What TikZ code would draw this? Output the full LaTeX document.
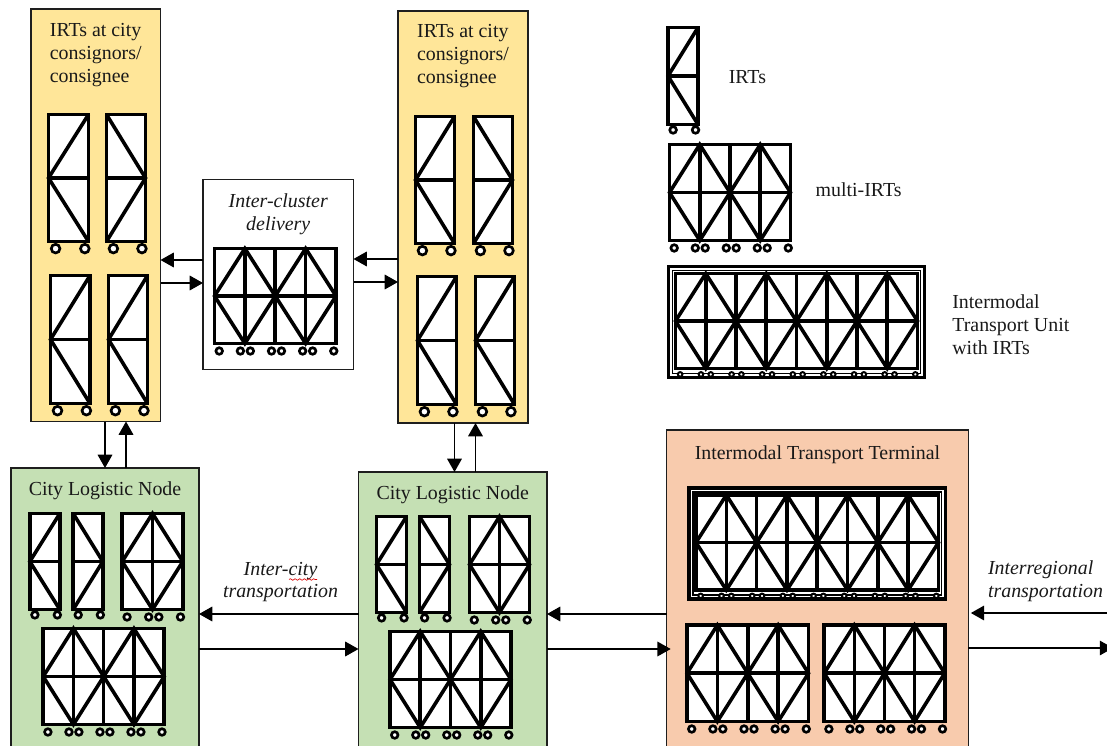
\documentclass[tikz,border=0pt]{standalone}
\usepackage{fontspec}
\setmainfont{Liberation Serif}
\usepackage{xcolor}
\usetikzlibrary{arrows.meta, positioning, decorations.pathmorphing}
\definecolor{irtyellow}{RGB}{255, 230, 153}
\definecolor{nodegreen}{RGB}{197, 224, 180}
\definecolor{termorange}{RGB}{248, 203, 173}
\definecolor{edgegrey}{RGB}{30, 30, 30}
\def\pxu{0.0265cm}
\tikzset{
  boxsize/.style 2 args={minimum width={(#1)*\pxu}, minimum height={(#2)*\pxu}},
  panel/.style={draw=edgegrey, line width=1pt, anchor=north west, inner sep=0pt, outer sep=0pt},
  rackframe/.style={draw=black, fill=white, line width=2.9pt, anchor=north west, inner sep=0pt, outer sep=0pt},
  rackline/.style={draw=black, line width=2.7pt},
  wheel/.style={draw=black, fill=white, line width=2pt},
  caption/.style={font=\fontsize{15}{17.3}\selectfont, align=center, inner sep=0pt, text=black!90},
  arrow/.style={-{Triangle[length=10pt, width=11pt]}, line width=1.1pt, black}
}
% left, top, width, height, columns, radius, drop
\newcommand{\rackwheels}[7]{%
  \foreach \c in {1,...,#5} \foreach \f in {.2,.88}
    \draw[wheel] ({#1+#3*(\c-1+\f)/#5},{-#2-#4-#7}) circle[radius=#6];
}
\newcommand{\singlebody}[6]{%
  \node[rackframe, boxsize={#4-3}{#5-3}] (#1) at ({#2+1.5},{-#3-1.5}) {};
  \begin{scope}[shift={(#1.north west)}, xscale={#4-3}, yscale={#5-3}]
    \draw[rackline] (0,-.5) -- (1,-.5);
    \ifnum#6=0
      \draw[rackline] (1,0) -- (0,-.5) -- (1,-1);
    \else
      \draw[rackline] (0,0) -- (1,-.5) -- (0,-1);
    \fi
  \end{scope}
}
\newcommand{\pairbody}[6]{%
  \node[rackframe, boxsize={#4-3}{#5-3}] (#1) at ({#2+1.5},{-#3-1.5}) {};
  \begin{scope}[shift={(#1.north west)}, xscale={(#4-3)/#6}, yscale={#5-3}]
    \draw[rackline] (0,-.5) -- (#6,-.5);
    \foreach \p in {1,...,#6} {
      \draw[rackline] (\p-1,-.5) -- (\p-.5,0) -- (\p,-.5) -- (\p-.5,-1) -- cycle;
      \draw[rackline] (\p-.5,0) -- (\p-.5,-1);
      \draw[rackline] (\p,0) -- (\p,-1);
    }
  \end{scope}
}
\newcommand{\leftrack}[5]{\singlebody{#1}{#2}{#3}{#4}{#5}{0}\rackwheels{#2}{#3}{#4}{#5}{1}{#5/30}{#5/36*2+1.6}}
\newcommand{\rightrack}[5]{\singlebody{#1}{#2}{#3}{#4}{#5}{1}\rackwheels{#2}{#3}{#4}{#5}{1}{#5/30}{#5/36*2+1.6}}
\newcommand{\pairrack}[6]{\pairbody{#1}{#2}{#3}{#4}{#5}{#6}\pgfmathtruncatemacro\wheelcols{2*#6}\rackwheels{#2}{#3}{#4}{#5}{\wheelcols}{3.3}{6}}
\newcommand{\itunit}[5]{%
  \node[rackframe, boxsize={#4-3}{#5-3}] (#1) at ({#2+1.5},{-#3-1.5}) {};
  \draw[black, line width=1.2pt] ({#2+5.5},{-#3-5.5}) rectangle ({#2+#4-5.5},{-#3-#5+5.5});
  \pgfmathsetmacro\itx{#2+7}
  \pgfmathsetmacro\ity{#3+7}
  \pgfmathsetmacro\itw{#4-14}
  \pgfmathsetmacro\ith{#5-16}
  \pairbody{#1rack}{\itx}{\ity}{\itw}{\ith}{4}
  \begin{scope}[wheel/.append style={line width=1.5pt}]
    \rackwheels{\itx}{\ity}{\itw}{\ith}{8}{2.3}{4.4}
  \end{scope}
}
\begin{document}
\begin{tikzpicture}[x=\pxu, y=\pxu]
  \useasboundingbox (0,0) rectangle (1107,-746);
  \clip (0,0) rectangle (1107,-746);

  \node[panel, fill=irtyellow, boxsize={129.5}{412.5}] (yellowa) at (31,-9) {};
  \node[panel, fill=irtyellow, boxsize={130}{412}] (yellowb) at (398,-11) {};
  \node[panel, fill=white, boxsize={150.5}{190}] (cluster) at (203,-179.5) {};
  \node[panel, fill=nodegreen, boxsize={188}{300}] (greena) at (11,-468) {};
  \node[panel, fill=nodegreen, boxsize={188.5}{300}] (greenb) at (358.5,-472) {};
  \node[panel, fill=termorange, boxsize={301.5}{340}] (terminal) at (666.7,-430) {};

  \node[caption, align=left, below=10.5pt of yellowa.north] (titlea) {IRTs at city\\consignors/\\consignee};
  \node[caption, align=left, below=10pt of yellowb.north] (titleb) {IRTs at city\\consignors/\\consignee};
  \node[caption, below=10.8pt of cluster.north, font=\fontsize{15}{17.3}\selectfont\itshape] (clustertitle) {Inter-cluster\\delivery};
  \node[caption, below=10.5pt of greena.north] (cityatitle) {City Logistic Node};
  \node[caption, below=10.5pt of greenb.north] (citybtitle) {City Logistic Node};
  \node[caption, below=11.5pt of terminal.north] (terminaltitle) {Intermodal Transport Terminal};

  \leftrack{yaa}{47}{113}{43}{130}
  \rightrack{yab}{105}{113}{42}{130}
  \leftrack{yac}{49}{274}{42.5}{131}
  \leftrack{yad}{107}{274}{42}{131}
  \pairrack{clusterrack}{213}{247}{124.5}{98}{2}
  \leftrack{yba}{414}{115}{42}{130}
  \rightrack{ybb}{472}{115}{42}{130}
  \leftrack{ybc}{416}{275}{42}{131}
  \leftrack{ybd}{474}{275}{42}{131}

  \leftrack{legendone}{666.5}{26}{33}{100}
  \pairrack{legendtwo}{668}{143}{124}{99}{2}
  \itunit{legendunit}{667}{265}{259}{114}
  \node[caption, right=23pt of legendone, yshift=-.6pt] (legendonetext) {IRTs};
  \node[caption, right=18.8pt of legendtwo, yshift=2pt] (legendtwotext) {multi-IRTs};
  \node[caption, align=left, right=20.8pt of legendunit, yshift=-2pt] (legendunittext) {Intermodal\\Transport Unit\\with IRTs};

  \leftrack{gaa}{28.3}{512}{33}{99}
  \rightrack{gab}{71.7}{512}{32.6}{99}
  \pairrack{gac}{120.7}{512}{63.6}{99}{1}
  \pairrack{gad}{41.7}{627}{124}{99}{2}
  \leftrack{gba}{375}{515}{33}{99}
  \rightrack{gbb}{418}{515}{33}{99}
  \pairrack{gbc}{468}{515}{63}{99}{1}
  \pairrack{gbd}{388.5}{630}{124}{99}{2}

  \itunit{terminalunit}{687.5}{486.5}{259.5}{114}
  \pairrack{terma}{685.5}{623.5}{124.5}{99.5}{2}
  \pairrack{termb}{822.7}{623.5}{123.5}{99.5}{2}

  \node[caption, font=\fontsize{15}{17.3}\selectfont\itshape] (intercity) at (280.5,-582) {Inter-city\\transportation};
  \node[caption, align=left, font=\fontsize{15}{17.3}\selectfont\itshape] (interregional) at (1045.5,-581) {Interregional\\transportation};
  \draw[red!85!black, line width=.5pt, decorate, decoration={snake, amplitude=.6pt, segment length=3.5pt}] (289,-579.5) -- (317,-579.5);

  \coordinate (rowa) at (0,-260);
  \coordinate (rowb) at (0,-283);
  \coordinate (rowc) at (0,-259);
  \coordinate (rowd) at (0,-282);
  \coordinate (cola) at (105,0);
  \coordinate (colb) at (126,0);
  \coordinate (colc) at (454.5,0);
  \coordinate (cold) at (475.5,0);
  \coordinate (rowe) at (0,-614);
  \coordinate (rowf) at (0,-649);
  \coordinate (farin) at (1107,-613);
  \coordinate (farout) at (1113,-648);

  \draw[arrow] (cluster.west |- rowa) -- (yellowa.east |- rowa);
  \draw[arrow] (yellowa.east |- rowb) -- (cluster.west |- rowb);
  \draw[arrow] (yellowb.west |- rowc) -- (cluster.east |- rowc);
  \draw[arrow] (cluster.east |- rowd) -- (yellowb.west |- rowd);
  \draw[arrow] (cola |- yellowa.south) -- (cola |- greena.north);
  \draw[arrow] (colb |- greena.north) -- (colb |- yellowa.south);
  \draw[arrow] (colc |- yellowb.south) -- (colc |- greenb.north);
  \draw[arrow] (cold |- greenb.north) -- (cold |- yellowb.south);
  \draw[arrow] (greenb.west |- rowe) -- (greena.east |- rowe);
  \draw[arrow] (greena.east |- rowf) -- (greenb.west |- rowf);
  \draw[arrow] (terminal.west |- rowe) -- (greenb.east |- rowe);
  \draw[arrow] (greenb.east |- rowf) -- ([xshift=3pt]terminal.west |- rowf);
  \draw[arrow] (farin) -- ([xshift=2pt]terminal.east |- farin);
  \draw[arrow] (terminal.east |- farout) -- (farout);
\end{tikzpicture}
\end{document}
